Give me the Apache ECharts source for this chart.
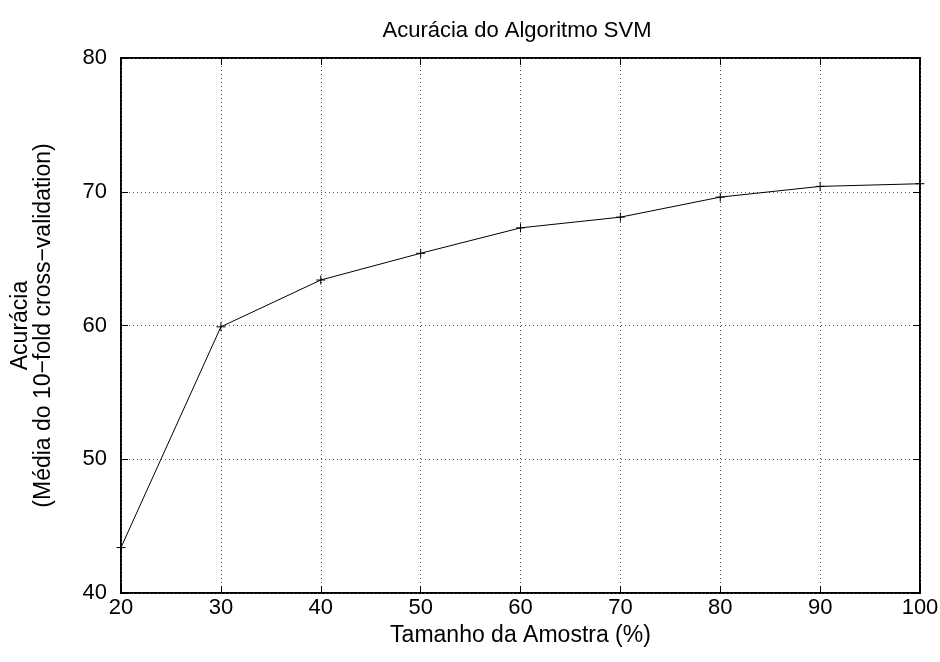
<!DOCTYPE html>
<html><head><meta charset="utf-8">
<script src="https://cdn.jsdelivr.net/npm/echarts@6/dist/echarts.min.js"></script>
<style>html,body{margin:0;padding:0;background:#fff}#c{width:940px;height:662px}</style>
</head><body><div id="c"></div>
<script>
const sampleSizes = [20, 30, 40, 50, 60, 70, 80, 90, 100];
const accuracy = [43.4, 59.9, 63.4, 65.4, 67.3, 68.1, 69.6, 70.4, 70.6];
const titleText = 'Acurácia do Algoritmo SVM';
const xName = 'Tamanho da Amostra (%)';
const yName = 'Acurácia\n(Média do 10\u2212fold cross\u2212validation)';

const font = 'Liberation Sans, Arial, sans-serif';
const fs = 22;
const fsName = 23;
const chart = echarts.init(document.getElementById('c'), null, {renderer: 'canvas'});
const tickCommon = {show: true, inside: true, length: 7, lineStyle: {color: '#000', width: 1}};
chart.setOption({
  animation: false,
  backgroundColor: '#fff',
  title: {text: titleText, left: 512, top: 15, textAlign: 'center',
    textStyle: {fontFamily: font, fontSize: fs, fontWeight: 'normal', color: '#000'}},
  grid: {left: 121, right: 20, top: 58, bottom: 69, containLabel: false, outerBoundsMode: 'none',
    show: true, borderColor: '#000', borderWidth: 2, backgroundColor: 'transparent'},
  xAxis: [{
    type: 'value', min: 20, max: 100, interval: 10, position: 'bottom',
    name: xName, nameLocation: 'middle', nameGap: 30,
    nameTextStyle: {fontFamily: font, fontSize: fsName, color: '#000'},
    axisLine: {show: false}, axisTick: tickCommon,
    axisLabel: {fontFamily: font, fontSize: fs, color: '#000', margin: 4},
    splitLine: {show: true, lineStyle: {color: '#555', type: [1, 3], width: 1}}
  }, {
    type: 'value', min: 20, max: 100, interval: 10, position: 'top',
    axisLine: {show: false}, axisTick: tickCommon, axisLabel: {show: false}, splitLine: {show: false}
  }],
  yAxis: [{
    type: 'value', min: 40, max: 80, interval: 10, position: 'left',
    name: yName, nameLocation: 'middle', nameGap: 66, nameRotate: 90,
    nameTextStyle: {fontFamily: font, fontSize: fsName, color: '#000', lineHeight: 23},
    axisLine: {show: false}, axisTick: tickCommon,
    axisLabel: {fontFamily: font, fontSize: fs, color: '#000', margin: 14},
    splitLine: {show: true, lineStyle: {color: '#555', type: [1, 3], width: 1}}
  }, {
    type: 'value', min: 40, max: 80, interval: 10, position: 'right',
    axisLine: {show: false}, axisTick: tickCommon, axisLabel: {show: false}, splitLine: {show: false}
  }],
  series: [{
    type: 'line',
    data: sampleSizes.map((x, i) => [x, accuracy[i]]),
    symbol: 'path://M0,5L10,5M5,0L5,10',
    symbolSize: 9,
    showAllSymbol: true,
    itemStyle: {color: 'transparent', borderColor: '#000', borderWidth: 1},
    lineStyle: {color: '#000', width: 1},
    z: 5
  }]
});
</script></body></html>
